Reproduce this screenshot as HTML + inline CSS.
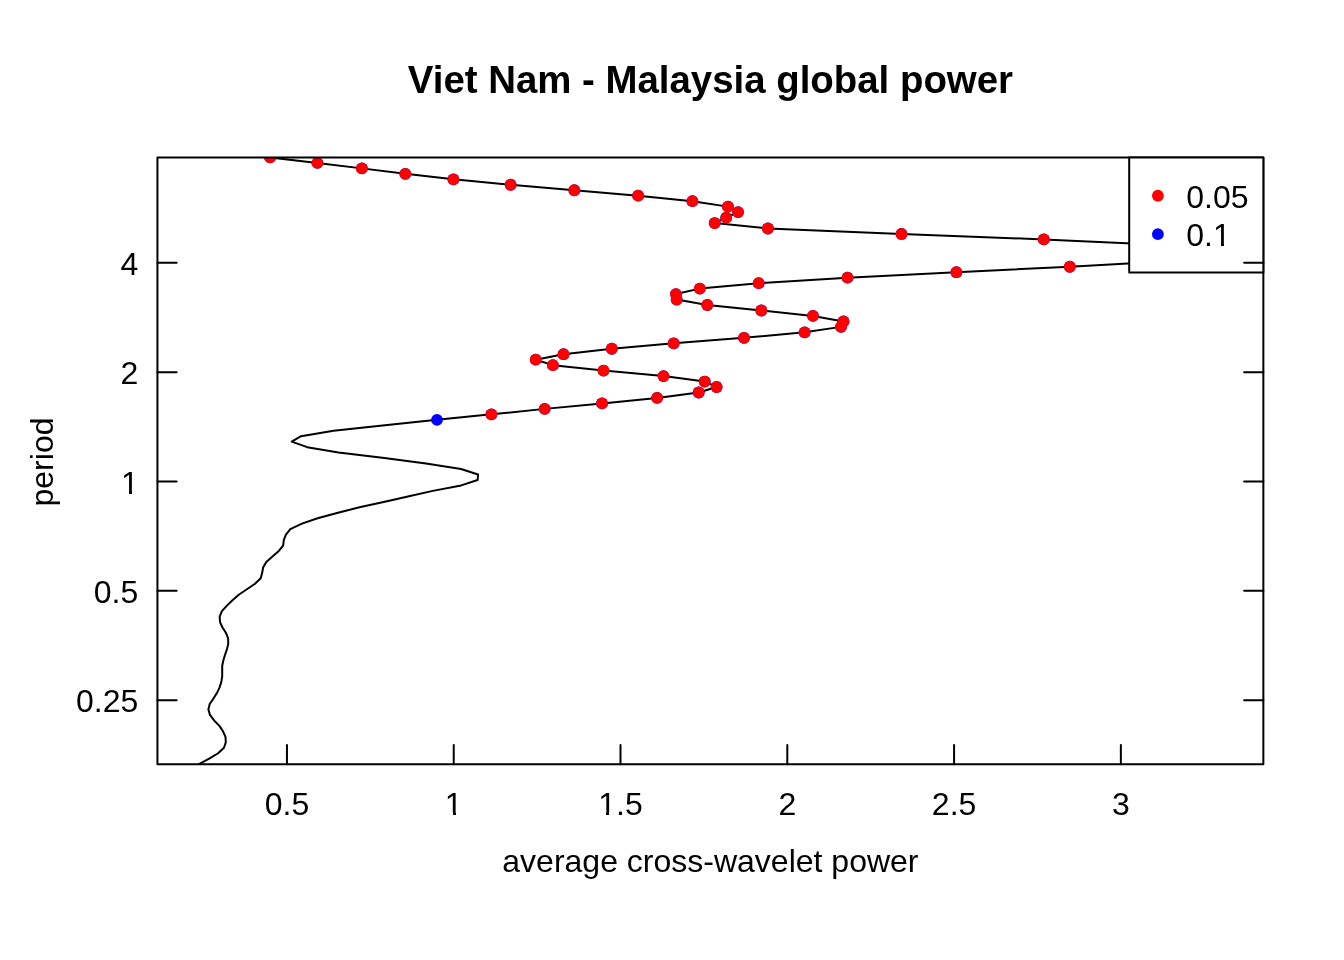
<!DOCTYPE html>
<html><head><meta charset="utf-8"><title>Viet Nam - Malaysia global power</title>
<style>
html,body{margin:0;padding:0;background:#fff;}
svg{display:block;}
text{font-family:"Liberation Sans",Arial,Helvetica,sans-serif;fill:#000;}
</style></head><body>
<svg width="1344" height="960" viewBox="0 0 1344 960">
<rect x="0" y="0" width="1344" height="960" fill="#fff"/>
<defs><clipPath id="pc"><rect x="157.44" y="157.44" width="1105.92" height="606.72"/></clipPath></defs>
<g clip-path="url(#pc)">
<polyline points="199.00,764.16 209.20,758.69 218.10,753.23 224.00,747.76 225.80,742.30 225.50,736.83 223.00,731.36 219.40,725.90 214.10,720.43 210.00,714.97 208.40,709.50 209.70,704.03 213.40,698.57 216.90,693.10 219.50,687.64 221.25,682.17 222.20,676.70 222.20,671.24 222.20,665.77 223.40,660.31 225.00,654.84 226.90,649.38 228.25,643.91 228.10,638.44 226.00,632.98 222.50,627.51 220.00,622.05 219.70,616.58 221.90,611.11 226.90,605.65 232.50,600.18 238.75,594.72 246.90,589.25 255.00,583.78 260.70,578.32 262.20,572.85 263.10,567.39 266.30,561.92 272.50,556.45 278.80,550.99 283.10,545.52 283.80,540.06 285.90,534.59 290.30,529.12 302.00,523.66 317.60,518.19 338.00,512.73 359.50,507.26 384.80,501.79 409.00,496.33 432.80,490.86 461.20,485.40 477.60,479.93 478.10,474.46 461.00,469.00 426.00,463.53 384.40,458.07 338.50,452.60 307.20,447.14 291.70,441.67 301.10,436.20 333.50,430.74 385.00,425.27 437.00,419.81 491.40,414.34 544.70,408.87 602.00,403.41 657.10,397.94 698.70,392.48 716.60,387.01 704.70,381.54 663.50,376.08 603.50,370.61 552.90,365.15 535.70,359.68 563.50,354.21 611.80,348.75 673.70,343.28 744.00,337.82 804.60,332.35 841.00,326.88 843.50,321.42 813.00,315.95 761.30,310.49 707.30,305.02 676.70,299.55 675.90,294.09 699.80,288.62 758.70,283.16 847.50,277.69 956.40,272.22 1069.80,266.76 1168.00,261.29 1240.00,255.83 1240.00,250.36 1165.00,244.90 1043.80,239.43 901.50,233.96 767.90,228.50 714.70,223.03 726.20,217.57 738.10,212.10 728.00,206.63 692.40,201.17 638.10,195.70 574.30,190.24 510.60,184.77 453.40,179.30 405.30,173.84 361.90,168.37 317.40,162.91 270.10,157.44" fill="none" stroke="#000" stroke-width="2" stroke-linejoin="round" stroke-linecap="round"/>
<circle cx="437.00" cy="419.81" r="5.9" fill="#0000ff"/>
<circle cx="491.40" cy="414.34" r="5.9" fill="#0000ff"/>
<circle cx="544.70" cy="408.87" r="5.9" fill="#0000ff"/>
<circle cx="602.00" cy="403.41" r="5.9" fill="#0000ff"/>
<circle cx="657.10" cy="397.94" r="5.9" fill="#0000ff"/>
<circle cx="698.70" cy="392.48" r="5.9" fill="#0000ff"/>
<circle cx="716.60" cy="387.01" r="5.9" fill="#0000ff"/>
<circle cx="704.70" cy="381.54" r="5.9" fill="#0000ff"/>
<circle cx="663.50" cy="376.08" r="5.9" fill="#0000ff"/>
<circle cx="603.50" cy="370.61" r="5.9" fill="#0000ff"/>
<circle cx="552.90" cy="365.15" r="5.9" fill="#0000ff"/>
<circle cx="535.70" cy="359.68" r="5.9" fill="#0000ff"/>
<circle cx="563.50" cy="354.21" r="5.9" fill="#0000ff"/>
<circle cx="611.80" cy="348.75" r="5.9" fill="#0000ff"/>
<circle cx="673.70" cy="343.28" r="5.9" fill="#0000ff"/>
<circle cx="744.00" cy="337.82" r="5.9" fill="#0000ff"/>
<circle cx="804.60" cy="332.35" r="5.9" fill="#0000ff"/>
<circle cx="841.00" cy="326.88" r="5.9" fill="#0000ff"/>
<circle cx="843.50" cy="321.42" r="5.9" fill="#0000ff"/>
<circle cx="813.00" cy="315.95" r="5.9" fill="#0000ff"/>
<circle cx="761.30" cy="310.49" r="5.9" fill="#0000ff"/>
<circle cx="707.30" cy="305.02" r="5.9" fill="#0000ff"/>
<circle cx="676.70" cy="299.55" r="5.9" fill="#0000ff"/>
<circle cx="675.90" cy="294.09" r="5.9" fill="#0000ff"/>
<circle cx="699.80" cy="288.62" r="5.9" fill="#0000ff"/>
<circle cx="758.70" cy="283.16" r="5.9" fill="#0000ff"/>
<circle cx="847.50" cy="277.69" r="5.9" fill="#0000ff"/>
<circle cx="956.40" cy="272.22" r="5.9" fill="#0000ff"/>
<circle cx="1069.80" cy="266.76" r="5.9" fill="#0000ff"/>
<circle cx="1168.00" cy="261.29" r="5.9" fill="#0000ff"/>
<circle cx="1240.00" cy="255.83" r="5.9" fill="#0000ff"/>
<circle cx="1240.00" cy="250.36" r="5.9" fill="#0000ff"/>
<circle cx="1165.00" cy="244.90" r="5.9" fill="#0000ff"/>
<circle cx="1043.80" cy="239.43" r="5.9" fill="#0000ff"/>
<circle cx="901.50" cy="233.96" r="5.9" fill="#0000ff"/>
<circle cx="767.90" cy="228.50" r="5.9" fill="#0000ff"/>
<circle cx="714.70" cy="223.03" r="5.9" fill="#0000ff"/>
<circle cx="726.20" cy="217.57" r="5.9" fill="#0000ff"/>
<circle cx="738.10" cy="212.10" r="5.9" fill="#0000ff"/>
<circle cx="728.00" cy="206.63" r="5.9" fill="#0000ff"/>
<circle cx="692.40" cy="201.17" r="5.9" fill="#0000ff"/>
<circle cx="638.10" cy="195.70" r="5.9" fill="#0000ff"/>
<circle cx="574.30" cy="190.24" r="5.9" fill="#0000ff"/>
<circle cx="510.60" cy="184.77" r="5.9" fill="#0000ff"/>
<circle cx="453.40" cy="179.30" r="5.9" fill="#0000ff"/>
<circle cx="405.30" cy="173.84" r="5.9" fill="#0000ff"/>
<circle cx="361.90" cy="168.37" r="5.9" fill="#0000ff"/>
<circle cx="317.40" cy="162.91" r="5.9" fill="#0000ff"/>
<circle cx="270.10" cy="157.44" r="5.9" fill="#0000ff"/>
<circle cx="491.40" cy="414.34" r="5.9" fill="#ff0000"/>
<circle cx="544.70" cy="408.87" r="5.9" fill="#ff0000"/>
<circle cx="602.00" cy="403.41" r="5.9" fill="#ff0000"/>
<circle cx="657.10" cy="397.94" r="5.9" fill="#ff0000"/>
<circle cx="698.70" cy="392.48" r="5.9" fill="#ff0000"/>
<circle cx="716.60" cy="387.01" r="5.9" fill="#ff0000"/>
<circle cx="704.70" cy="381.54" r="5.9" fill="#ff0000"/>
<circle cx="663.50" cy="376.08" r="5.9" fill="#ff0000"/>
<circle cx="603.50" cy="370.61" r="5.9" fill="#ff0000"/>
<circle cx="552.90" cy="365.15" r="5.9" fill="#ff0000"/>
<circle cx="535.70" cy="359.68" r="5.9" fill="#ff0000"/>
<circle cx="563.50" cy="354.21" r="5.9" fill="#ff0000"/>
<circle cx="611.80" cy="348.75" r="5.9" fill="#ff0000"/>
<circle cx="673.70" cy="343.28" r="5.9" fill="#ff0000"/>
<circle cx="744.00" cy="337.82" r="5.9" fill="#ff0000"/>
<circle cx="804.60" cy="332.35" r="5.9" fill="#ff0000"/>
<circle cx="841.00" cy="326.88" r="5.9" fill="#ff0000"/>
<circle cx="843.50" cy="321.42" r="5.9" fill="#ff0000"/>
<circle cx="813.00" cy="315.95" r="5.9" fill="#ff0000"/>
<circle cx="761.30" cy="310.49" r="5.9" fill="#ff0000"/>
<circle cx="707.30" cy="305.02" r="5.9" fill="#ff0000"/>
<circle cx="676.70" cy="299.55" r="5.9" fill="#ff0000"/>
<circle cx="675.90" cy="294.09" r="5.9" fill="#ff0000"/>
<circle cx="699.80" cy="288.62" r="5.9" fill="#ff0000"/>
<circle cx="758.70" cy="283.16" r="5.9" fill="#ff0000"/>
<circle cx="847.50" cy="277.69" r="5.9" fill="#ff0000"/>
<circle cx="956.40" cy="272.22" r="5.9" fill="#ff0000"/>
<circle cx="1069.80" cy="266.76" r="5.9" fill="#ff0000"/>
<circle cx="1168.00" cy="261.29" r="5.9" fill="#ff0000"/>
<circle cx="1240.00" cy="255.83" r="5.9" fill="#ff0000"/>
<circle cx="1240.00" cy="250.36" r="5.9" fill="#ff0000"/>
<circle cx="1165.00" cy="244.90" r="5.9" fill="#ff0000"/>
<circle cx="1043.80" cy="239.43" r="5.9" fill="#ff0000"/>
<circle cx="901.50" cy="233.96" r="5.9" fill="#ff0000"/>
<circle cx="767.90" cy="228.50" r="5.9" fill="#ff0000"/>
<circle cx="714.70" cy="223.03" r="5.9" fill="#ff0000"/>
<circle cx="726.20" cy="217.57" r="5.9" fill="#ff0000"/>
<circle cx="738.10" cy="212.10" r="5.9" fill="#ff0000"/>
<circle cx="728.00" cy="206.63" r="5.9" fill="#ff0000"/>
<circle cx="692.40" cy="201.17" r="5.9" fill="#ff0000"/>
<circle cx="638.10" cy="195.70" r="5.9" fill="#ff0000"/>
<circle cx="574.30" cy="190.24" r="5.9" fill="#ff0000"/>
<circle cx="510.60" cy="184.77" r="5.9" fill="#ff0000"/>
<circle cx="453.40" cy="179.30" r="5.9" fill="#ff0000"/>
<circle cx="405.30" cy="173.84" r="5.9" fill="#ff0000"/>
<circle cx="361.90" cy="168.37" r="5.9" fill="#ff0000"/>
<circle cx="317.40" cy="162.91" r="5.9" fill="#ff0000"/>
<circle cx="270.10" cy="157.44" r="5.9" fill="#ff0000"/>
</g>
<g stroke="#000" stroke-width="2" fill="none" stroke-linecap="round" stroke-linejoin="round">
<rect x="157.44" y="157.44" width="1105.92" height="606.72"/>
<line x1="286.95" y1="764.16" x2="286.95" y2="744.9599999999999"/>
<line x1="453.73" y1="764.16" x2="453.73" y2="744.9599999999999"/>
<line x1="620.51" y1="764.16" x2="620.51" y2="744.9599999999999"/>
<line x1="787.3" y1="764.16" x2="787.3" y2="744.9599999999999"/>
<line x1="954.08" y1="764.16" x2="954.08" y2="744.9599999999999"/>
<line x1="1120.86" y1="764.16" x2="1120.86" y2="744.9599999999999"/>
<line x1="157.44" y1="262.87" x2="176.64" y2="262.87"/>
<line x1="157.44" y1="372.2" x2="176.64" y2="372.2"/>
<line x1="157.44" y1="481.53" x2="176.64" y2="481.53"/>
<line x1="157.44" y1="590.87" x2="176.64" y2="590.87"/>
<line x1="157.44" y1="700.2" x2="176.64" y2="700.2"/>
</g>
<rect x="1129.2" y="157.44" width="134.16" height="115.06" fill="#fff" stroke="#000" stroke-width="2" stroke-linejoin="round"/>
<circle cx="1157.9" cy="195.75" r="5.9" fill="#ff0000"/>
<circle cx="1157.9" cy="234.2" r="5.9" fill="#0000ff"/>
<g font-size="32">
<text x="1186.3" y="208.2">0.05</text>
<text x="1186.3" y="246.1">0.1</text>
</g>
<g stroke="#000" stroke-width="2" fill="none" stroke-linecap="round">
<line x1="1263.36" y1="262.87" x2="1244.1599999999999" y2="262.87"/>
<line x1="1263.36" y1="372.2" x2="1244.1599999999999" y2="372.2"/>
<line x1="1263.36" y1="481.53" x2="1244.1599999999999" y2="481.53"/>
<line x1="1263.36" y1="590.87" x2="1244.1599999999999" y2="590.87"/>
<line x1="1263.36" y1="700.2" x2="1244.1599999999999" y2="700.2"/>
</g>
<g font-size="32">
<text x="286.95" y="814.7" text-anchor="middle">0.5</text>
<text x="453.73" y="814.7" text-anchor="middle">1</text>
<text x="620.51" y="814.7" text-anchor="middle">1.5</text>
<text x="787.3" y="814.7" text-anchor="middle">2</text>
<text x="954.08" y="814.7" text-anchor="middle">2.5</text>
<text x="1120.86" y="814.7" text-anchor="middle">3</text>
<text x="138.24" y="274.77" text-anchor="end">4</text>
<text x="138.24" y="384.10" text-anchor="end">2</text>
<text x="138.74" y="493.90" text-anchor="end">1</text>
<text x="138.24" y="602.77" text-anchor="end">0.5</text>
<text x="138.24" y="712.10" text-anchor="end">0.25</text>
<text x="710.4" y="871.7" text-anchor="middle">average cross-wavelet power</text>
<text transform="translate(53.1,462.0) rotate(-90)" x="0" y="0" text-anchor="middle">period</text>
</g>
<g fill="#fff">
<rect x="446" y="812" width="7" height="3"/><rect x="456" y="812" width="6" height="3"/>
<rect x="599" y="812" width="7" height="3"/><rect x="609" y="812" width="6" height="3"/>
<rect x="122" y="491" width="7" height="3"/><rect x="132" y="491" width="6" height="3"/>
<rect x="1214" y="243" width="7" height="3"/><rect x="1224" y="243" width="7" height="3"/>
</g>
<text x="710.4" y="93.1" text-anchor="middle" font-size="38.4" font-weight="bold">Viet Nam - Malaysia global power</text>
</svg>
</body></html>
